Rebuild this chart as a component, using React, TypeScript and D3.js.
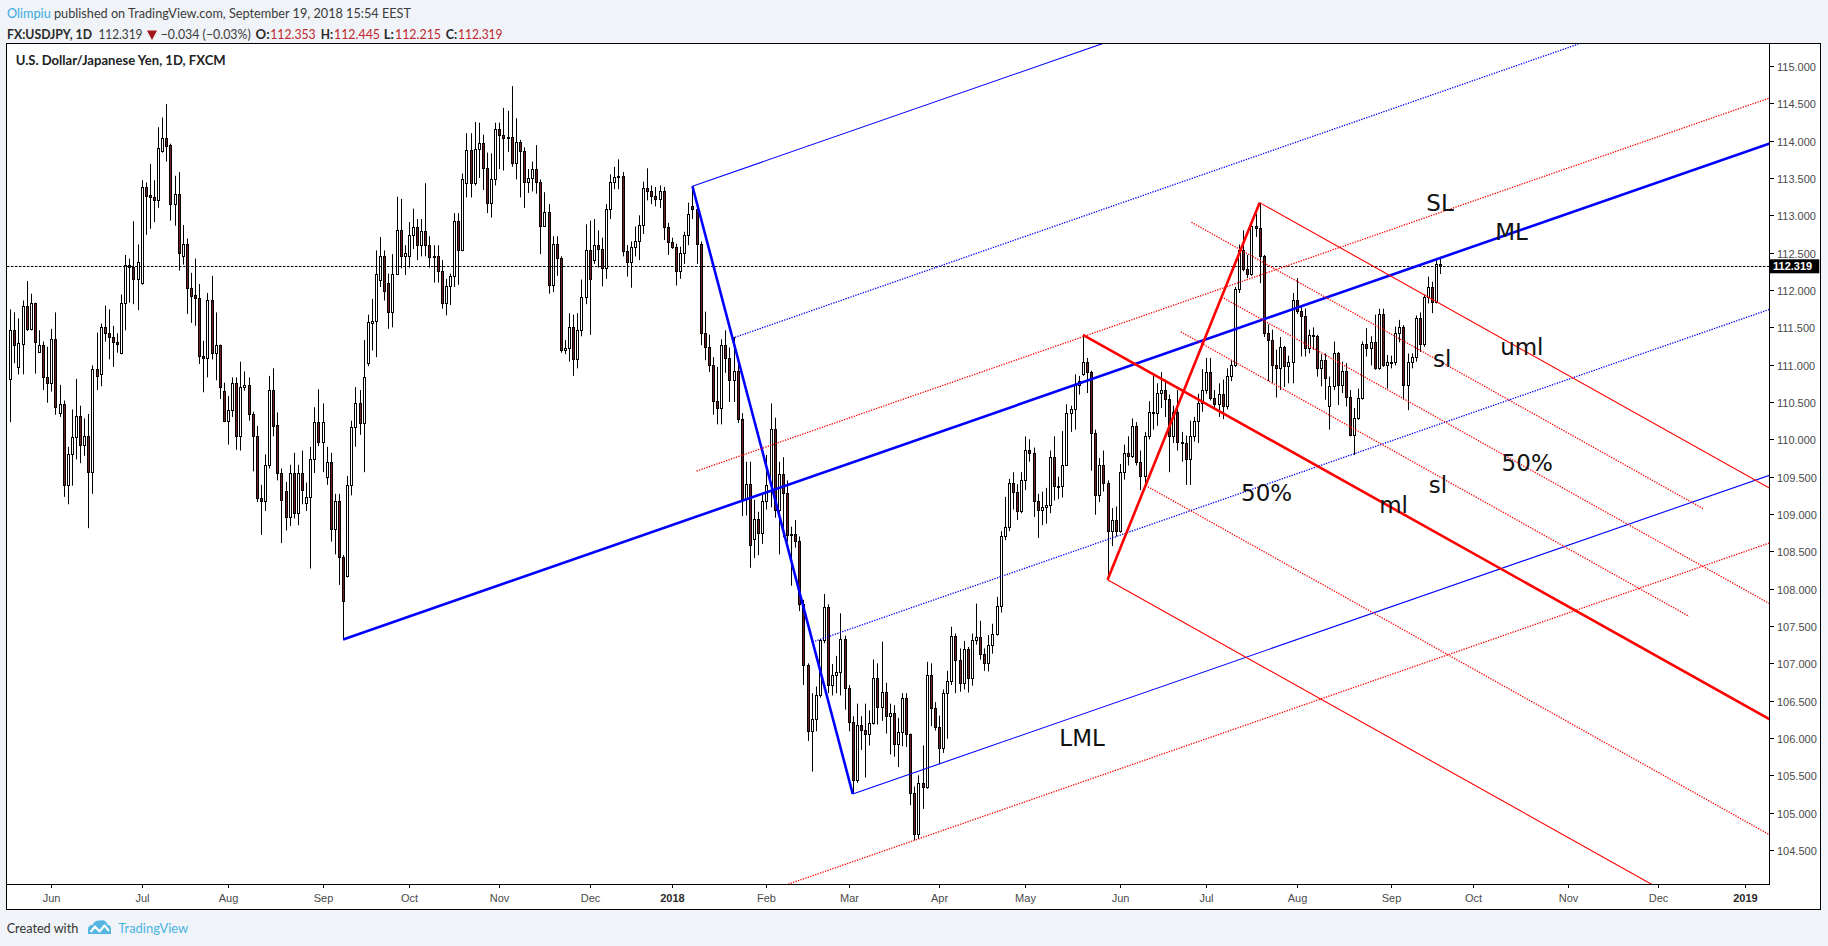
import React from "react";
import * as d3 from "d3";

type OHLC = [number, number, number, number]; // open, high, low, close

// ---------------- USDJPY daily bars (FXCM) ----------------
const may2017: OHLC[] = [
  [110.81, 111.74, 110.23, 111.47], [111.47, 111.70, 111.02, 111.26], [110.97, 111.62, 110.87, 111.29],
  [111.28, 111.86, 110.87, 111.78], [111.78, 112.12, 111.45, 111.48], [111.48, 111.95, 111.46, 111.82],
  [111.82, 111.83, 110.88, 111.30], [111.17, 111.46, 111.16, 111.26], [111.26, 111.31, 110.66, 110.83],
  [110.83, 111.24, 110.49, 110.75],
];
const jun2017: OHLC[] = [
  [110.75, 111.48, 110.64, 111.35], [111.35, 111.70, 110.33, 110.43], [110.35, 110.73, 110.30, 110.47],
  [110.47, 110.52, 109.23, 109.39], [109.39, 109.90, 109.13, 109.81], [109.81, 110.40, 109.38, 110.03],
  [110.03, 110.81, 109.73, 110.31], [110.31, 110.45, 109.68, 109.92], [109.92, 110.28, 109.78, 110.05],
  [110.05, 110.34, 108.81, 109.56], [109.56, 110.99, 109.27, 110.94], [110.94, 111.43, 110.66, 110.85],
  [110.87, 111.55, 110.71, 111.51], [111.51, 111.79, 111.31, 111.43], [111.43, 111.74, 111.07, 111.37],
  [111.37, 111.52, 110.97, 111.30], [111.31, 111.42, 111.16, 111.28], [111.16, 111.94, 111.14, 111.83],
  [111.83, 112.47, 111.46, 112.34], [112.34, 112.42, 111.83, 112.31], [112.31, 112.92, 111.81, 112.15],
  [112.15, 112.61, 111.73, 112.37],
];
const jul2017: OHLC[] = [
  [112.09, 113.47, 112.07, 113.38], [113.38, 113.44, 112.74, 113.26], [113.27, 113.69, 112.82, 113.24],
  [113.24, 113.47, 112.91, 113.20], [113.20, 114.18, 113.10, 113.90], [113.86, 114.31, 113.84, 114.03],
  [114.03, 114.49, 113.72, 113.93], [113.94, 113.96, 112.93, 113.15], [113.15, 113.53, 112.86, 113.28],
  [113.28, 113.58, 112.26, 112.50], [112.45, 112.87, 112.34, 112.61], [112.61, 112.69, 111.68, 112.03],
  [112.03, 112.23, 111.56, 111.92], [111.93, 112.42, 111.52, 111.89], [111.89, 112.08, 111.01, 111.11],
  [111.11, 111.32, 110.63, 111.09], [111.09, 111.96, 110.83, 111.87], [111.87, 112.19, 111.07, 111.16],
  [111.16, 111.70, 110.79, 111.26], [111.26, 111.27, 110.54, 110.70], [110.65, 110.76, 110.23, 110.24],
];
const aug2017: OHLC[] = [
  [110.25, 110.58, 109.93, 110.39], [110.39, 110.83, 110.30, 110.75], [110.75, 110.83, 109.86, 110.04],
  [110.04, 111.04, 109.85, 110.70], [110.70, 110.91, 110.65, 110.73], [110.73, 110.83, 110.25, 110.34],
  [110.34, 110.37, 109.57, 110.05], [110.05, 110.18, 109.16, 109.21], [109.22, 109.39, 108.72, 109.17],
  [109.17, 109.80, 109.04, 109.66], [109.66, 110.85, 109.61, 110.66], [110.66, 110.95, 110.04, 110.18],
  [110.19, 110.36, 109.45, 109.55], [109.55, 109.61, 108.61, 109.19], [109.31, 109.43, 108.78, 108.96],
  [108.96, 109.66, 108.84, 109.55], [109.55, 109.82, 108.94, 109.02], [109.02, 109.66, 108.85, 109.55],
  [109.55, 109.85, 109.13, 109.32], [109.15, 109.42, 109.04, 109.23], [109.23, 109.90, 108.27, 109.74],
  [109.74, 110.43, 109.55, 110.23], [110.23, 110.67, 109.91, 109.97],
];
const sep2017: OHLC[] = [
  [109.97, 110.48, 109.56, 110.23], [109.50, 109.90, 109.39, 109.70], [109.70, 109.82, 108.63, 108.80],
  [108.80, 109.27, 108.46, 109.18], [109.18, 109.27, 108.05, 108.42], [108.42, 108.45, 107.32, 107.83],
  [108.17, 109.51, 108.15, 109.39], [109.39, 110.25, 109.25, 110.16], [110.16, 110.70, 109.90, 110.49],
  [110.49, 110.66, 110.06, 110.22], [110.22, 111.33, 109.56, 110.83], [111.02, 111.67, 110.98, 111.57],
  [111.56, 111.88, 111.19, 111.58], [111.58, 112.53, 111.10, 112.22], [112.14, 112.71, 112.04, 112.46],
  [112.46, 112.53, 111.86, 111.98], [112.10, 112.22, 111.48, 111.70], [111.70, 112.48, 111.50, 112.22],
  [112.22, 113.25, 112.21, 112.80], [112.80, 113.22, 112.29, 112.46], [112.46, 112.60, 112.20, 112.50],
];
const oct2017: OHLC[] = [
  [112.46, 112.91, 112.30, 112.74], [112.74, 113.09, 112.55, 112.84], [112.84, 112.95, 112.40, 112.60],
  [112.60, 112.95, 112.45, 112.79], [112.79, 113.43, 112.45, 112.60], [112.60, 112.72, 112.30, 112.44],
  [112.44, 112.60, 112.10, 112.46], [112.46, 112.60, 112.10, 112.26], [112.26, 112.40, 111.75, 111.82],
  [111.82, 112.15, 111.66, 112.05], [112.05, 112.22, 111.80, 112.19], [112.19, 113.03, 112.04, 112.92],
  [112.92, 113.03, 112.07, 112.53], [112.53, 113.56, 112.52, 113.49], [113.43, 114.10, 113.24, 113.87],
  [113.87, 114.10, 113.24, 113.43], [113.43, 114.25, 113.40, 113.89], [113.89, 114.24, 113.50, 113.97],
  [113.97, 114.08, 113.34, 113.63], [113.63, 113.84, 113.03, 113.16], [113.16, 113.83, 112.97, 113.49],
  [113.49, 114.24, 113.40, 114.16],
];
const nov2017: OHLC[] = [
  [114.16, 114.24, 113.62, 114.07], [114.07, 114.44, 113.60, 114.03], [114.03, 114.40, 113.85, 114.05],
  [114.05, 114.73, 113.65, 113.70], [113.70, 114.30, 113.48, 113.98], [113.98, 114.01, 113.24, 113.86],
  [113.86, 113.91, 113.10, 113.45], [113.45, 113.62, 113.30, 113.50], [113.50, 113.72, 113.32, 113.62],
  [113.62, 113.94, 113.29, 113.45], [113.45, 113.48, 112.48, 112.86], [112.86, 113.31, 112.86, 113.05],
  [113.05, 113.15, 111.95, 112.07], [112.07, 112.72, 111.97, 112.61], [112.61, 112.72, 112.19, 112.43],
  [112.43, 112.45, 111.16, 111.20], [111.20, 111.33, 111.14, 111.22], [111.22, 111.69, 111.04, 111.50],
  [111.50, 111.67, 110.85, 111.07], [111.07, 111.69, 110.95, 111.46], [111.46, 112.14, 111.38, 111.90],
  [111.90, 112.88, 111.81, 112.53],
];
const dec2017: OHLC[] = [
  [112.53, 112.93, 111.40, 112.15], [112.40, 112.95, 112.35, 112.60], [112.60, 112.80, 112.30, 112.55],
  [112.55, 112.70, 112.05, 112.29], [112.29, 113.15, 112.15, 113.08], [113.08, 113.55, 112.95, 113.45],
  [113.45, 113.65, 113.35, 113.52], [113.52, 113.75, 113.35, 113.53], [113.53, 113.58, 112.45, 112.52],
  [112.52, 112.60, 112.18, 112.37], [112.37, 112.65, 112.03, 112.58], [112.58, 112.85, 112.45, 112.65],
  [112.65, 113.00, 112.40, 112.87], [112.87, 113.45, 112.75, 113.37], [113.37, 113.63, 113.20, 113.32],
  [113.32, 113.40, 113.15, 113.26], [113.26, 113.38, 113.12, 113.22], [113.22, 113.40, 113.10, 113.33],
  [113.33, 113.38, 112.67, 112.85], [112.85, 112.90, 112.47, 112.64],
];
const jan2018: OHLC[] = [
  [112.64, 112.70, 112.55, 112.58], [112.58, 112.62, 112.06, 112.26], [112.26, 112.58, 112.15, 112.49],
  [112.49, 112.78, 112.35, 112.73], [112.73, 113.17, 112.60, 113.02], [113.13, 113.39, 112.95, 113.08],
  [113.08, 113.12, 112.35, 112.62], [112.62, 112.65, 111.26, 111.43], [111.43, 111.71, 111.06, 111.23],
  [111.23, 111.40, 110.90, 111.00], [111.00, 111.10, 110.33, 110.51], [110.51, 110.97, 110.20, 110.42],
  [110.42, 111.34, 110.20, 111.26], [111.26, 111.46, 110.89, 111.09], [111.09, 111.23, 110.50, 110.79],
  [110.79, 111.37, 110.50, 110.92], [110.92, 111.10, 110.22, 110.27], [110.27, 110.35, 108.97, 109.20],
  [109.20, 109.70, 108.98, 109.40], [109.40, 109.70, 108.28, 108.58], [108.67, 109.19, 108.41, 108.93],
  [108.93, 109.03, 108.45, 108.75], [108.75, 109.28, 108.60, 109.18],
];
const feb2018: OHLC[] = [
  [109.18, 109.79, 109.06, 109.39], [109.39, 110.48, 109.09, 110.14], [110.14, 110.29, 108.95, 109.06],
  [109.06, 109.70, 108.46, 109.53], [109.53, 109.76, 108.69, 109.28], [109.28, 109.45, 108.63, 108.72],
  [108.72, 108.83, 108.04, 108.73], [108.73, 108.92, 108.55, 108.64], [108.64, 108.70, 107.70, 107.80],
  [107.80, 107.85, 106.71, 106.98], [106.98, 107.00, 105.96, 106.09], [106.09, 106.60, 105.55, 106.26],
  [106.26, 106.69, 106.09, 106.57], [106.57, 107.33, 106.54, 107.31], [107.31, 107.93, 107.27, 107.76],
  [107.76, 107.79, 106.60, 106.71], [106.71, 106.99, 106.57, 106.85], [106.85, 107.10, 106.60, 106.89],
  [106.89, 107.67, 106.57, 107.32], [107.32, 107.37, 106.38, 106.67],
];
const mar2018: OHLC[] = [
  [106.67, 106.71, 106.09, 106.22], [106.22, 106.29, 105.25, 105.44], [105.44, 106.46, 105.40, 106.18],
  [106.18, 106.29, 105.84, 106.11], [106.11, 106.46, 105.47, 106.06], [106.06, 106.37, 105.90, 106.20],
  [106.20, 107.05, 106.18, 106.81], [106.81, 107.00, 106.18, 106.41], [106.41, 107.29, 106.23, 106.62],
  [106.62, 106.74, 106.06, 106.30], [106.30, 106.46, 105.78, 106.33], [106.33, 106.44, 105.75, 105.92],
  [105.92, 106.27, 105.61, 106.08], [106.08, 106.60, 105.89, 106.53], [106.53, 106.60, 105.88, 106.05],
  [106.05, 106.06, 105.10, 105.27], [105.27, 105.35, 104.63, 104.72], [104.72, 105.50, 104.65, 105.40],
  [105.40, 105.90, 105.05, 105.35], [105.35, 107.02, 105.32, 106.84], [106.84, 107.00, 106.16, 106.40],
  [106.40, 106.48, 106.10, 106.15],
];
const apr2018: OHLC[] = [
  [106.15, 106.30, 105.65, 105.87], [105.87, 106.65, 105.80, 106.60], [106.60, 106.90, 105.99, 106.77],
  [106.77, 107.49, 106.71, 107.36], [107.36, 107.40, 106.60, 107.05], [107.05, 107.20, 106.62, 106.74],
  [106.74, 107.30, 106.65, 107.19], [107.19, 107.22, 106.61, 106.80], [106.80, 107.40, 106.70, 107.31],
  [107.31, 107.80, 107.25, 107.35], [107.35, 107.57, 107.05, 107.13], [107.13, 107.20, 106.90, 107.01],
  [107.01, 107.38, 106.89, 107.25], [107.25, 107.53, 107.13, 107.39], [107.39, 107.89, 107.37, 107.77],
  [107.77, 108.77, 107.68, 108.71], [108.71, 109.23, 108.65, 108.82], [108.82, 109.47, 108.77, 109.42],
  [109.42, 109.56, 109.06, 109.30], [109.30, 109.40, 108.92, 109.04], [109.04, 109.56, 109.01, 109.46],
];
const may2018: OHLC[] = [
  [109.46, 110.04, 109.32, 109.86], [109.86, 110.00, 109.70, 109.82], [109.82, 109.89, 108.96, 109.18],
  [109.18, 109.27, 108.68, 109.06], [109.06, 109.30, 108.85, 109.10], [109.10, 109.35, 108.87, 109.12],
  [109.12, 109.85, 109.01, 109.76], [109.76, 110.04, 109.18, 109.38], [109.38, 109.50, 109.20, 109.37],
  [109.37, 110.11, 109.22, 109.66], [109.66, 110.47, 109.65, 110.35], [110.35, 110.45, 110.10, 110.40],
  [110.40, 110.87, 110.13, 110.73], [110.73, 110.85, 110.60, 110.78], [110.87, 111.40, 110.85, 111.04],
  [111.04, 111.09, 110.62, 110.90], [110.90, 110.92, 109.58, 110.09], [110.09, 110.13, 108.99, 109.25],
  [109.25, 109.75, 109.16, 109.65], [109.65, 109.85, 109.30, 109.42], [109.42, 109.45, 108.12, 108.77],
  [108.77, 109.08, 108.57, 108.92], [108.92, 109.10, 108.70, 108.77],
];
const jun2018: OHLC[] = [
  [108.77, 109.67, 108.75, 109.56], [109.56, 109.93, 109.46, 109.82], [109.82, 110.04, 109.65, 109.78],
  [109.78, 110.28, 109.75, 110.18], [110.18, 110.23, 109.65, 109.70], [109.70, 109.85, 109.32, 109.51],
  [109.51, 110.10, 109.40, 110.04], [110.04, 110.51, 110.00, 110.37], [110.37, 110.86, 110.13, 110.35],
  [110.35, 110.75, 110.18, 110.62], [110.62, 110.90, 110.42, 110.66], [110.66, 110.80, 110.30, 110.54],
  [110.54, 110.60, 109.56, 110.05], [110.05, 110.45, 109.95, 110.37], [110.37, 110.66, 109.85, 109.97],
  [109.97, 110.10, 109.70, 109.95], [109.95, 110.05, 109.39, 109.74], [109.74, 110.25, 109.39, 110.04],
  [110.04, 110.30, 109.97, 110.25], [110.25, 110.61, 109.95, 110.49], [110.49, 110.94, 110.37, 110.66],
];
const jul2018: OHLC[] = [
  [110.66, 111.09, 110.61, 110.90], [110.90, 111.09, 110.52, 110.56], [110.56, 110.66, 110.40, 110.47],
  [110.47, 110.75, 110.30, 110.61], [110.61, 110.80, 110.27, 110.44], [110.44, 110.95, 110.40, 110.85],
  [110.85, 111.06, 110.78, 110.99], [110.99, 112.04, 110.97, 112.02], [112.02, 112.61, 111.96, 112.54],
  [112.54, 112.80, 112.25, 112.28], [112.28, 112.47, 112.16, 112.21], [112.21, 112.88, 112.19, 112.86],
  [112.86, 113.02, 112.71, 112.83], [112.83, 113.17, 112.09, 112.45], [112.45, 112.47, 111.37, 111.42],
  [111.42, 111.54, 110.78, 111.33], [111.33, 111.47, 110.75, 111.00], [111.00, 111.20, 110.56, 110.95],
  [110.95, 111.37, 110.66, 111.23], [111.23, 111.25, 110.70, 110.98], [110.98, 111.12, 110.75, 111.04],
  [111.04, 111.96, 110.75, 111.87],
];
const aug2018: OHLC[] = [
  [111.87, 112.16, 111.68, 111.72], [111.72, 111.78, 111.11, 111.65], [111.65, 111.75, 111.11, 111.22],
  [111.22, 111.47, 111.15, 111.40], [111.40, 111.50, 111.20, 111.38], [111.38, 111.40, 110.84, 110.95],
  [110.95, 111.14, 110.71, 111.06], [111.06, 111.15, 110.53, 110.82], [110.44, 110.84, 110.13, 110.71],
  [110.71, 111.31, 110.66, 111.15], [111.15, 111.17, 110.46, 110.73], [110.73, 111.04, 110.62, 110.91],
  [110.91, 111.02, 110.44, 110.57], [110.57, 110.66, 110.04, 110.06], [110.06, 110.42, 109.79, 110.28],
  [110.28, 110.68, 110.26, 110.55], [110.55, 111.31, 110.53, 111.28], [111.28, 111.49, 111.11, 111.22],
  [111.22, 111.38, 110.99, 111.31], [111.31, 111.67, 110.93, 110.95], [110.95, 111.75, 110.93, 111.68],
  [111.68, 111.75, 110.97, 111.00], [111.00, 111.13, 110.68, 111.04],
];
const sep2018: OHLC[] = [
  [111.04, 111.12, 110.95, 111.03], [111.03, 111.51, 110.99, 111.43], [111.43, 111.60, 111.30, 111.51],
  [111.51, 111.53, 110.53, 110.73], [110.73, 111.15, 110.39, 111.04], [111.04, 111.15, 110.95, 111.10],
  [111.10, 111.66, 111.04, 111.62], [111.62, 111.70, 111.17, 111.28], [111.28, 111.94, 111.24, 111.91],
  [111.91, 112.18, 111.82, 112.04], [112.04, 112.11, 111.69, 111.84], [111.84, 112.40, 111.82, 112.35],
  [112.353, 112.445, 112.215, 112.319],
];

const monthsData: [string, OHLC[]][] = [
  ["2017-05", may2017], ["2017-06", jun2017], ["2017-07", jul2017], ["2017-08", aug2017],
  ["2017-09", sep2017], ["2017-10", oct2017], ["2017-11", nov2017], ["2017-12", dec2017],
  ["2018-01", jan2018], ["2018-02", feb2018], ["2018-03", mar2018], ["2018-04", apr2018],
  ["2018-05", may2018], ["2018-06", jun2018], ["2018-07", jul2018], ["2018-08", aug2018],
  ["2018-09", sep2018],
];

const firstBarDate = "2017-05-18";
const calendarEnd = "2019-02-28";
const holidays = ["2017-12-25"];
const originDate = "2017-06-01";
const lastPrice = 112.319;
const priceTicks = d3.range(104.5, 115.0001, 0.5);

// drawings (anchors in date / price; bar offsets for points in the future)
const blueFork = { a: ["2017-09-08", 107.32], b: ["2018-01-08", 113.39], c: ["2018-03-02", 105.25] } as const;
const redFork = { a: ["2018-05-21", 111.40], b: ["2018-05-29", 108.12], c: ["2018-07-19", 113.17] } as const;
const redPartialLevels = [
  { level: 0.25, fromBar: 274.8, toBar: 398.5 },
  { level: 0.75, fromBar: 277.4, toBar: 402.1 },
];
const slidingParallels = [
  { date: "2018-01-09", price: 109.575, fromBar: 157 },
  { date: "2018-03-23", price: 104.63, fromBar: 150 },
];
const annotations: [string, number, number][] = [
  ["SL", 337.9, 113.06], ["ML", 355.3, 112.67], ["uml", 357.8, 111.13], ["sl", 338.4, 110.97],
  ["50%", 359.1, 109.57], ["sl", 337.4, 109.28], ["ml", 326.6, 109.02], ["50%", 295.7, 109.18],
  ["LML", 250.8, 105.89],
];

// ---------------- calendar / derived ----------------
const dayFmt = d3.utcFormat("%Y-%m-%d");
const calendar: string[] = d3
  .utcDays(new Date(firstBarDate + "T00:00:00Z"), new Date(calendarEnd + "T00:00:00Z"))
  .filter((d) => d.getUTCDay() !== 0 && d.getUTCDay() !== 6)
  .map(dayFmt)
  .filter((s) => !holidays.includes(s));
const origin = calendar.indexOf(originDate);
const idxOf = (s: string) => calendar.indexOf(s) - origin;

const bars = monthsData.flatMap(([ym, arr]) => {
  const days = calendar.filter((s) => s.startsWith(ym));
  return arr.map((v, k) => ({ date: days[k], i: idxOf(days[k]), o: v[0], h: v[1], l: v[2], c: v[3] }));
});

const monthTicks = d3
  .utcMonths(new Date("2017-06-01T00:00:00Z"), new Date("2019-01-02T00:00:00Z"))
  .map((m) => {
    const ym = d3.utcFormat("%Y-%m")(m);
    const first = calendar.find((s) => s.startsWith(ym)) as string;
    const jan = m.getUTCMonth() === 0;
    return { i: idxOf(first), label: jan ? String(m.getUTCFullYear()) : d3.utcFormat("%b")(m), bold: jan };
  });

type Pt = { i: number; p: number };
function makeFork(def: any) {
  const A: Pt = { i: idxOf(def.a[0]), p: def.a[1] };
  const B: Pt = { i: idxOf(def.b[0]), p: def.b[1] };
  const C: Pt = { i: idxOf(def.c[0]), p: def.c[1] };
  const M: Pt = { i: (B.i + C.i) / 2, p: (B.p + C.p) / 2 };
  const slope = (M.p - A.p) / (M.i - A.i);
  const level = (k: number): Pt => ({ i: M.i + k * (C.i - M.i), p: M.p + k * (C.p - M.p) });
  const along = (P: Pt, i: number) => P.p + slope * (i - P.i);
  return { A, B, C, M, slope, level, along };
}

type Seg = { a: Pt; b: Pt; color: string; w: number; dash?: string };
const FAR = 445;
const BLUE = "#0000ff";
const RED = "#ff0000";
const DOT = "1.3,1.3";
const DOT_W = 1.3;

function buildSegments(): Seg[] {
  const segs: Seg[] = [];
  const bf = makeFork(blueFork);
  const rf = makeFork(redFork);
  const end = (P: Pt, f: any, to = FAR): Pt => ({ i: to, p: f.along(P, to) });
  // blue pitchfork
  segs.push({ a: bf.A, b: end(bf.A, bf), color: BLUE, w: 2.6 });
  segs.push({ a: bf.B, b: bf.C, color: BLUE, w: 2.6 });
  segs.push({ a: bf.B, b: end(bf.B, bf), color: BLUE, w: 1.1 });
  segs.push({ a: bf.C, b: end(bf.C, bf), color: BLUE, w: 1.1 });
  [-0.5, 0.5].forEach((k) => {
    const P = bf.level(k);
    segs.push({ a: P, b: end(P, bf), color: BLUE, w: DOT_W, dash: DOT });
  });
  // sliding parallels to the blue median line
  slidingParallels.forEach((s) => {
    const P: Pt = { i: idxOf(s.date), p: s.price };
    segs.push({ a: { i: s.fromBar, p: bf.along(P, s.fromBar) }, b: end(P, bf), color: RED, w: DOT_W, dash: DOT });
  });
  // red pitchfork
  segs.push({ a: rf.A, b: end(rf.A, rf), color: RED, w: 2.6 });
  segs.push({ a: rf.B, b: rf.C, color: RED, w: 2.6 });
  segs.push({ a: rf.B, b: end(rf.B, rf), color: RED, w: 1.1 });
  segs.push({ a: rf.C, b: end(rf.C, rf), color: RED, w: 1.1 });
  [-0.5, 0.5].forEach((k) => {
    const P = rf.level(k);
    segs.push({ a: P, b: end(P, rf), color: RED, w: DOT_W, dash: DOT });
  });
  redPartialLevels.forEach((lv) => {
    const P = rf.level(lv.level);
    segs.push({ a: { i: lv.fromBar, p: rf.along(P, lv.fromBar) }, b: { i: lv.toBar, p: rf.along(P, lv.toBar) }, color: RED, w: DOT_W, dash: DOT });
  });
  return segs;
}
const segments = buildSegments();

// ---------------- component ----------------
export default function App() {
  const W = 1828, H = 946;
  const PL = 7, PR = 1770, PT = 44, PB = 884;
  const x = d3.scaleLinear().domain([0, idxOf("2019-01-01")]).range([51.3, 1744.6]);
  const y = d3.scaleLinear().domain([104.5, 115]).range([850, 66]);
  const axisFont = "'Liberation Sans', Arial, sans-serif";
  const uiFont = "Lato, 'Open Sans', sans-serif";
  const redTxt = "#c0282d";
  const darkTxt = "#3b3b3b";
  const yLast = Math.round(y(lastPrice)) + 0.5;

  return (
    <svg width={W} height={H} viewBox={`0 0 ${W} ${H}`} style={{ position: "absolute", left: 0, top: 0, display: "block" }}>
      <defs>
        <clipPath id="plotClip">
          <rect x={PL} y={PT} width={PR - PL} height={PB - PT} />
        </clipPath>
      </defs>
      <rect x={0} y={0} width={W} height={H} fill="#f0f3f7" />

      {/* header */}
      <text x={7} y={18} fontFamily={uiFont} fontSize={13} textLength={404} lengthAdjust="spacingAndGlyphs">
        <tspan fill="#36a9e1">Olimpiu</tspan>
        <tspan fill={darkTxt}> published on TradingView.com, September 19, 2018 15:54 EEST</tspan>
      </text>
      <g fontFamily={uiFont} fontSize={13}>
        <text x={7} y={39} fontWeight="bold" fill="#2a2a2a" textLength={85} lengthAdjust="spacingAndGlyphs">FX:USDJPY, 1D</text>
        <text x={98.4} y={39} fill={darkTxt} textLength={44} lengthAdjust="spacingAndGlyphs">112.319</text>
        <path d="M147,30.5 L157,30.5 L152,40 Z" fill="#a3141a" />
        <text x={160.7} y={39} fill={darkTxt} textLength={90} lengthAdjust="spacingAndGlyphs">−0.034 (−0.03%)</text>
        <text x={255.6} y={39} fontWeight="bold" fill="#2a2a2a" textLength={14} lengthAdjust="spacingAndGlyphs">O:</text>
        <text x={270.2} y={39} fill={redTxt} textLength={45.5} lengthAdjust="spacingAndGlyphs">112.353</text>
        <text x={320.7} y={39} fontWeight="bold" fill="#2a2a2a" textLength={12.3} lengthAdjust="spacingAndGlyphs">H:</text>
        <text x={334} y={39} fill={redTxt} textLength={46} lengthAdjust="spacingAndGlyphs">112.445</text>
        <text x={383.8} y={39} fontWeight="bold" fill="#2a2a2a" textLength={10.2} lengthAdjust="spacingAndGlyphs">L:</text>
        <text x={395} y={39} fill={redTxt} textLength={46} lengthAdjust="spacingAndGlyphs">112.215</text>
        <text x={445.8} y={39} fontWeight="bold" fill="#2a2a2a" textLength={11.5} lengthAdjust="spacingAndGlyphs">C:</text>
        <text x={458} y={39} fill={redTxt} textLength={44.5} lengthAdjust="spacingAndGlyphs">112.319</text>
      </g>

      {/* chart frame */}
      <rect x={6.5} y={43.5} width={1814} height={866} fill="#ffffff" stroke="#000" strokeWidth={1} />
      <text x={15.7} y={65} fontFamily={uiFont} fontSize={13} fontWeight="bold" fill="#222" textLength={210} lengthAdjust="spacingAndGlyphs">
        U.S. Dollar/Japanese Yen, 1D, FXCM
      </text>

      <g clipPath="url(#plotClip)">
        {/* candles */}
        {bars.map((b) => {
          const cx = Math.round(x(b.i));
          const up = b.c >= b.o;
          const top = Math.round(y(Math.max(b.o, b.c)));
          const bot = Math.round(y(Math.min(b.o, b.c)));
          const hgt = Math.max(1, bot - top);
          return (
            <g key={b.date}>
              <line x1={cx + 0.5} x2={cx + 0.5} y1={y(b.h)} y2={y(b.l)} stroke="#000" strokeWidth={1} />
              <rect x={cx - 0.5} y={top + 0.5} width={2} height={hgt} fill={up ? "#ffffff" : "#6b1e1e"} stroke="#000" strokeWidth={1} />
            </g>
          );
        })}
        {/* last price line */}
        <line x1={PL} x2={PR} y1={yLast} y2={yLast} stroke="#000" strokeWidth={1} strokeDasharray="2.5,1.5" />
        {/* drawings */}
        {segments.map((s, k) => (
          <line key={k} x1={x(s.a.i)} y1={y(s.a.p)} x2={x(s.b.i)} y2={y(s.b.p)} stroke={s.color} strokeWidth={s.w} strokeDasharray={s.dash} />
        ))}
        {annotations.map(([t, bi, p], k) => (
          <text key={k} x={x(bi)} y={y(p)} textAnchor="middle" fontFamily="'DejaVu Sans', sans-serif" fontSize={23} fill="#111">
            {t}
          </text>
        ))}
      </g>

      {/* axes */}
      <line x1={PR - 0.5} x2={PR - 0.5} y1={PT} y2={PB} stroke="#000" strokeWidth={1} />
      <line x1={PL} x2={PR} y1={PB + 0.5} y2={PB + 0.5} stroke="#000" strokeWidth={1} />
      <g fontFamily={axisFont} fontSize={11} fill="#4a4a4a">
        {priceTicks.map((p) => {
          const ty = Math.round(y(p)) + 0.5;
          return (
            <g key={p}>
              <line x1={PR} x2={PR + 4} y1={ty} y2={ty} stroke="#000" />
              <text x={1777} y={ty + 4}>{p.toFixed(3)}</text>
            </g>
          );
        })}
        {monthTicks.map((t) => {
          const tx = Math.round(x(t.i)) + 0.5;
          return (
            <g key={t.label + t.i}>
              <line x1={tx} x2={tx} y1={PB} y2={PB + 4} stroke="#000" />
              <text x={tx} y={902} textAnchor="middle" fontWeight={t.bold ? "bold" : "normal"} fill={t.bold ? "#2a2a2a" : "#4a4a4a"}>
                {t.label}
              </text>
            </g>
          );
        })}
      </g>
      {/* last price label */}
      <rect x={PR} y={259.3} width={49.3} height={14} fill="#000" />
      <text x={1773} y={270.3} fontFamily={axisFont} fontSize={11} fontWeight="bold" fill="#fff">
        {lastPrice.toFixed(3)}
      </text>

      {/* footer */}
      <text x={6.7} y={933.3} fontFamily={uiFont} fontSize={14} fill="#333" textLength={71.6} lengthAdjust="spacingAndGlyphs">Created with</text>
      <g>
        <path d="M88,934 L88,929.5 Q88,925 92.5,925 Q94.5,920 100,920.5 Q105.5,919 107.5,924.5 Q111.5,925.5 111,930 L111,934 Z" fill="#55b6e3" />
        <path d="M90.5,932 L95,926.5 L99.5,931.5 L104.5,925.5 L109,931" fill="none" stroke="#ffffff" strokeWidth={2} strokeLinejoin="round" />
      </g>
      <text x={118.3} y={933.3} fontFamily={uiFont} fontSize={14} fill="#49b3e3" textLength={70} lengthAdjust="spacingAndGlyphs">TradingView</text>
    </svg>
  );
}
